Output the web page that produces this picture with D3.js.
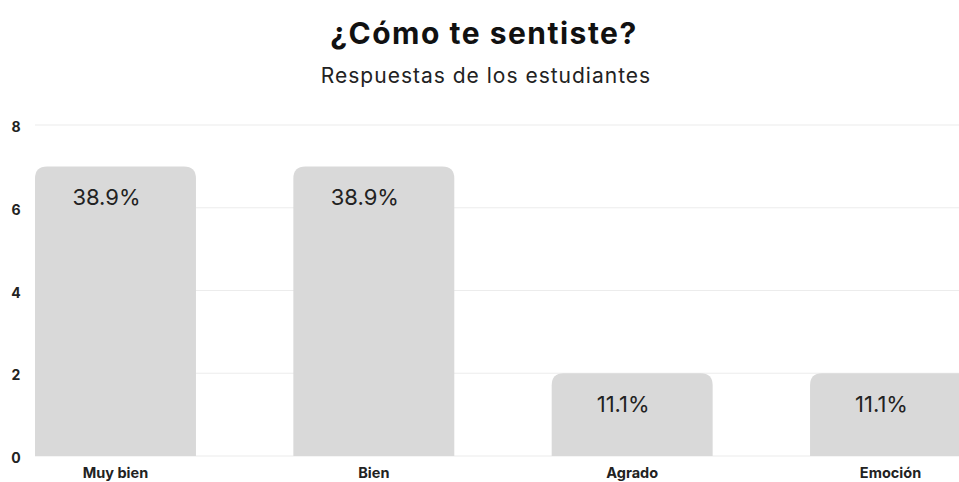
<!DOCTYPE html>
<html>
<head>
<meta charset="utf-8">
<script src="https://cdn.jsdelivr.net/npm/d3@7"></script>
<style>
  body { margin: 0; background: #fff; }
  svg { display: block; font-family: "Inter", "Open Sans", sans-serif; }
</style>
</head>
<body>
<svg id="chart" width="959" height="482"></svg>
<script>
const categories = ["Muy bien", "Bien", "Agrado", "Emoción"];
const counts = [7, 7, 2, 2];
const percentLabels = ["38.9%", "38.9%", "11.1%", "11.1%"];
const yTicks = [0, 2, 4, 6, 8];

const svg = d3.select("#chart");

const x = d3.scaleBand()
  .domain(categories)
  .range([35, 971])
  .paddingInner(0.377)
  .paddingOuter(0);

const y = d3.scaleLinear().domain([0, 8]).range([456, 125]);

// title
svg.append("text")
  .attr("x", 484)
  .attr("y", 44)
  .attr("text-anchor", "middle")
  .attr("font-size", 30)
  .attr("font-weight", 700)
  .attr("letter-spacing", 1.5)
  .attr("fill", "#111")
  .text("¿Cómo te sentiste?");

svg.append("text")
  .attr("x", 486)
  .attr("y", 83)
  .attr("text-anchor", "middle")
  .attr("font-size", 21)
  .attr("letter-spacing", 1)
  .attr("fill", "#222")
  .text("Respuestas de los estudiantes");

// grid
svg.append("g")
  .selectAll("line")
  .data(yTicks)
  .join("line")
  .attr("x1", 35)
  .attr("x2", 959)
  .attr("y1", (d) => y(d))
  .attr("y2", (d) => y(d))
  .attr("stroke", "#ececec")
  .attr("stroke-width", 1.2);

svg.append("g")
  .selectAll("text")
  .data(yTicks)
  .join("text")
  .attr("x", 16)
  .attr("y", (d) => y(d) + 7)
  .attr("text-anchor", "middle")
  .attr("font-size", 14)
  .attr("font-weight", 700)
  .attr("fill", "#222")
  .text((d) => d);

// bars with rounded top corners
const r = 12;
const barPath = (d) => {
  const x0 = x(d.cat), x1 = x0 + x.bandwidth();
  const top = y(d.value), bottom = y(0);
  return `M${x0},${bottom} L${x0},${top + r} Q${x0},${top} ${x0 + r},${top}
    L${x1 - r},${top} Q${x1},${top} ${x1},${top + r} L${x1},${bottom} Z`;
};

const rows = categories.map((c, i) => ({ cat: c, value: counts[i], label: percentLabels[i] }));

svg.append("g")
  .selectAll("path")
  .data(rows)
  .join("path")
  .attr("d", barPath)
  .attr("fill", "#d9d9d9");

svg.append("g")
  .selectAll("text")
  .data(rows)
  .join("text")
  .attr("x", (d) => x(d.cat) + x.bandwidth() / 2 - 9)
  .attr("y", (d) => y(d.value) + 39)
  .attr("text-anchor", "middle")
  .attr("font-size", 22)
  .attr("fill", "#222")
  .text((d) => d.label);

// x labels
svg.append("g")
  .selectAll("text")
  .data(categories)
  .join("text")
  .attr("x", (d) => x(d) + x.bandwidth() / 2)
  .attr("y", 478)
  .attr("text-anchor", "middle")
  .attr("font-size", 14.5)
  .attr("font-weight", 700)
  .attr("fill", "#222")
  .text((d) => d);
</script>
</body>
</html>
